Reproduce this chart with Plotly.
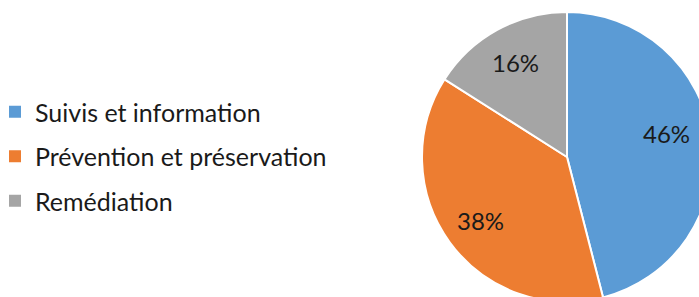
import math
import plotly.graph_objects as go

labels = ["Suivis et information", "Prévention et préservation", "Remédiation"]
values = [46, 38, 16]
colors = ["#5B9BD5", "#ED7D31", "#A5A5A5"]

W, H = 716, 304
VIEW_W = 699
cx, cy, r = 567, 157, 145

fig = go.Figure()
fig.add_trace(go.Pie(
    labels=labels, values=values, sort=False, direction="clockwise", rotation=0,
    marker=dict(colors=colors, line=dict(color="white", width=2)),
    textinfo="none",
    showlegend=False, hoverinfo="label+percent",
    domain=dict(x=[(cx - r) / W, (cx + r) / W], y=[1 - (cy + r) / H, 1 - (cy - r) / H]),
))
for i, (lab, col) in enumerate(zip(labels, colors)):
    fig.add_trace(go.Scatter(
        x=[None], y=[None], mode="markers", name=lab, legendgroup=f"g{i}",
        marker=dict(symbol="square", size=9, color=col),
    ))

# percentage labels placed along each slice's mid-angle, kept inside the visible area
total = sum(values)
cum = 0
for v in values:
    mid = (cum + v / 2) / total * 2 * math.pi
    cum += v
    rad = 0.74 * r
    px = min(cx + rad * math.sin(mid), VIEW_W - 33)
    py = cy - rad * math.cos(mid)
    if px == VIEW_W - 33:
        py -= 10
    fig.add_annotation(
        x=px / W, y=1 - py / H, xref="paper", yref="paper",
        xanchor="center", yanchor="middle",
        text=f"{round(v / total * 100)}%", showarrow=False,
        font=dict(family="Lato", size=24, color="#1a1a1a"),
    )

fig.update_layout(
    width=W, height=H, margin=dict(l=0, r=0, t=0, b=0, autoexpand=False),
    paper_bgcolor="white", plot_bgcolor="white",
    xaxis=dict(visible=False), yaxis=dict(visible=False),
    legend=dict(x=-5 / W, y=1 - 89 / H, xanchor="left", yanchor="top",
                font=dict(family="Lato", size=25, color="#1a1a1a"),
                tracegroupgap=9, itemsizing="constant"),
)
fig.write_html("out.html", config={"displayModeBar": False},
               post_script="document.body.style.margin='0';document.body.style.overflow='hidden';")
